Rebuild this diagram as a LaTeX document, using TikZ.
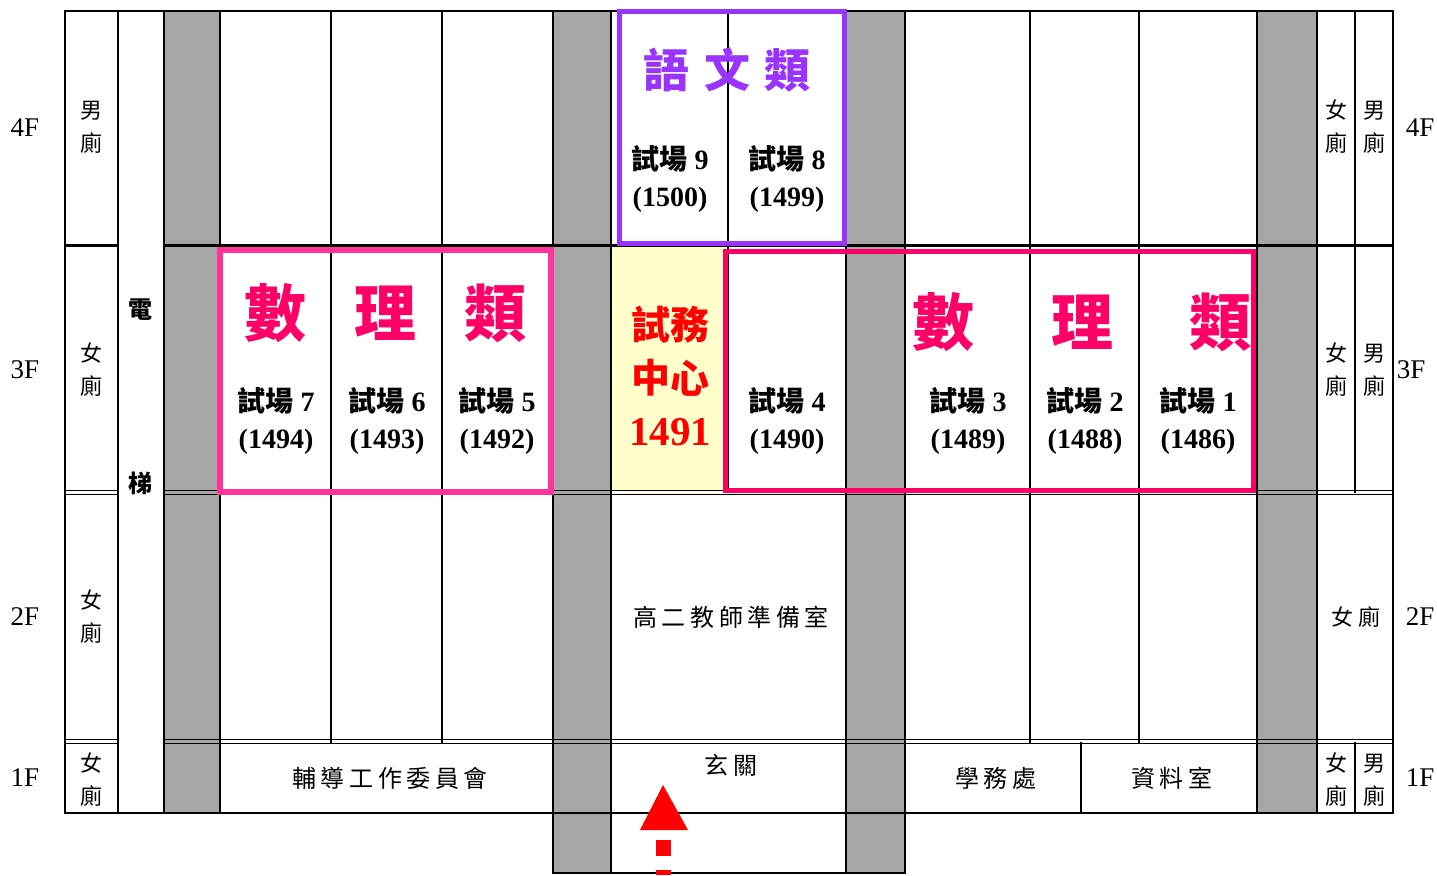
\documentclass[tikz,border=0pt]{standalone}
\usepackage{fontspec}
\setmainfont{Liberation Serif}[BoldFont={* Bold}]
\newfontfamily\cjk{Noto Sans CJK TC}
\newfontfamily\cjksp{Noto Sans CJK TC}[LetterSpace=19]
\definecolor{colgrey}{HTML}{A6A6A6}
\definecolor{yel}{HTML}{FFFFCC}
\definecolor{lpink}{HTML}{FF3399}
\definecolor{dpink}{HTML}{FF0066}
\definecolor{purp}{HTML}{9933FF}
\definecolor{rred}{HTML}{FF0000}
\begin{document}
\begin{tikzpicture}[x=0.5pt,y=-0.5pt,
  wall/.style={line width=1pt,line cap=rect},
  thinwall/.style={line width=0.8pt},
  toilet/.style={font=\cjk\fontsize{11}{16.5}\selectfont,align=center,inner sep=0pt},
  flabel/.style={font=\fontsize{13.5}{16}\selectfont,inner sep=0pt},
  exam/.style={font=\fontsize{14}{18.5}\selectfont\bfseries,align=center,inner sep=0pt},
  room/.style={font=\cjksp\fontsize{12}{14}\selectfont,inner sep=0pt},
  bigpink/.style={font=\cjk\fontsize{31}{31}\selectfont\bfseries,text=dpink,inner sep=0pt},
  bigpurp/.style={font=\cjk\fontsize{23}{23}\selectfont\bfseries,text=purp,inner sep=0pt},
  elev/.style={font=\cjk\fontsize{12}{12}\selectfont\bfseries,inner sep=0pt},
  redtxt/.style={font=\cjk\fontsize{19.5}{20}\selectfont\bfseries,text=rred,inner sep=0pt}]
\useasboundingbox (0,0) rectangle (1437,875);
% fills
\fill[colgrey] (164,11) rectangle (220,813);
\fill[colgrey] (553,11) rectangle (611,873);
\fill[colgrey] (846,11) rectangle (905,873);
\fill[colgrey] (1257,11) rectangle (1317,813);
\fill[yel] (611,245) rectangle (728,492);
% verticals
\foreach \x in {65,118,164,1393} \draw[wall] (\x,11) -- (\x,813);
\foreach \x in {220,331,442,553,611,728,846,905,1030,1139,1257,1317,1355} \draw[wall] (\x,11) -- (\x,492);
\foreach \x in {220,331,442,553,611,846,905,1030,1139,1257,1317} \draw[wall] (\x,492) -- (\x,743);
\foreach \x in {220,553,611,846,905,1081,1257,1317,1355} \draw[wall] (\x,743) -- (\x,813);
\foreach \x in {553,611,846,905} \draw[wall] (\x,813) -- (\x,873);
% horizontals
\draw[wall] (65,11) -- (1393,11);
\draw[wall] (65,813) -- (1393,813);
\draw[wall] (553,873) -- (905,873);
\draw[line width=1.5pt] (65,245) -- (118,245) (164,245) -- (1393,245);
\foreach \y in {490.5,494.5,739.5,743.5}
  \draw[thinwall] (65,\y) -- (118,\y) (164,\y) -- (1393,\y);
% coloured frames
\draw[purp,line width=2.5pt] (619.5,11.5) rectangle (844.5,243.5);
\draw[lpink,line width=3pt] (220,250) rectangle (551,492);
\draw[dpink,line width=2.5pt] (725.5,251.5) rectangle (1253.5,490);
% floor labels
\node[flabel] (f4l) at (25,128) {4F};
\node[flabel] (f4r) at (1420,128) {4F};
\node[flabel] (f3l) at (25,370) {3F};
\node[flabel] (f3r) at (1411,370) {3F};
\node[flabel] (f2l) at (25,617) {2F};
\node[flabel] (f2r) at (1420,617) {2F};
\node[flabel] (f1l) at (25,778) {1F};
\node[flabel] (f1r) at (1420,778) {1F};
% toilets
\node[toilet] (w4l) at (91,127) {男\\廁};
\node[toilet] (w4a) at (1336,127) {女\\廁};
\node[toilet] (w4b) at (1374,127) {男\\廁};
\node[toilet] (w3l) at (91,370) {女\\廁};
\node[toilet] (w3a) at (1336,370) {女\\廁};
\node[toilet] (w3b) at (1374,370) {男\\廁};
\node[toilet] (w2l) at (91,617) {女\\廁};
\node[toilet,font=\cjksp\fontsize{11}{16.5}\selectfont] (w2r) at (1356,617) {女廁};
\node[toilet] (w1l) at (91,780) {女\\廁};
\node[toilet] (w1a) at (1336,780) {女\\廁};
\node[toilet] (w1b) at (1374,780) {男\\廁};
% elevator
\node[elev] (el1) at (140,310) {電};
\node[elev] (el2) at (140,483) {梯};
% 4F
\node[bigpurp] (p1) at (666,70) {語};
\node[bigpurp] (p2) at (727,70) {文};
\node[bigpurp] (p3) at (787,70) {類};
\node[exam] (e9) at (670,179) {{\cjk\bfseries 試場} 9\\(1500)};
\node[exam] (e8) at (787,179) {{\cjk\bfseries 試場} 8\\(1499)};
% 3F
\node[bigpink] (a1) at (275,313) {數};
\node[bigpink] (a2) at (385,313) {理};
\node[bigpink] (a3) at (495,313) {類};
\node[bigpink] (b1) at (943,322) {數};
\node[bigpink] (b2) at (1082,322) {理};
\node[bigpink] (b3) at (1220,322) {類};
\node[exam] (e7) at (276,421) {{\cjk\bfseries 試場} 7\\(1494)};
\node[exam] (e6) at (387,421) {{\cjk\bfseries 試場} 6\\(1493)};
\node[exam] (e5) at (497,421) {{\cjk\bfseries 試場} 5\\(1492)};
\node[exam] (e4) at (787,421) {{\cjk\bfseries 試場} 4\\(1490)};
\node[exam] (e3) at (968,421) {{\cjk\bfseries 試場} 3\\(1489)};
\node[exam] (e2) at (1085,421) {{\cjk\bfseries 試場} 2\\(1488)};
\node[exam] (e1) at (1198,421) {{\cjk\bfseries 試場} 1\\(1486)};
\node[redtxt] (c1) at (670,325) {試務};
\node[redtxt] (c2) at (651,378) {中};
\node[redtxt] (c3) at (690,378) {心};
\node[font=\fontsize{20.5}{21}\selectfont\bfseries,text=rred,inner sep=0pt] (c4) at (670,432) {1491};
% 2F
\node[room] (r2) at (731,617) {高二教師準備室};
% 1F
\node[room] (r11) at (390,778) {輔導工作委員會};
\node[room] (r12) at (731,765) {玄關};
\node[room] (r13) at (996,778) {學務處};
\node[room] (r14) at (1172,778) {資料室};
% entrance arrow
\fill[rred] (663,785) -- (688,830) -- (640,830) -- cycle;
\fill[rred] (656,840) rectangle (671,856);
\fill[rred] (656,870) rectangle (671,875);
\end{tikzpicture}
\end{document}
